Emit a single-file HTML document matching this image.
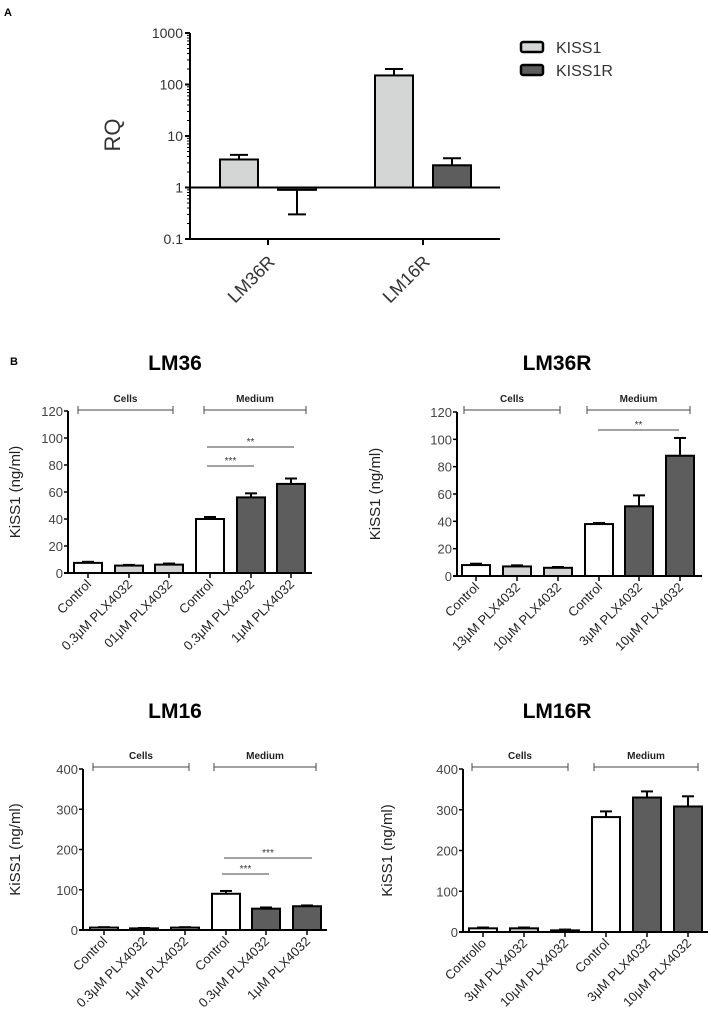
<!DOCTYPE html>
<html><head><meta charset="utf-8"><style>
body{margin:0;background:#fff;}
svg{display:block;font-family:"Liberation Sans",sans-serif;}
</style></head><body>
<svg id="s" width="711" height="1029" viewBox="0 0 711 1029" xmlns="http://www.w3.org/2000/svg">
<text x="4" y="16" font-size="11" font-weight="bold">A</text>
<text x="10" y="365" font-size="11" font-weight="bold">B</text>
</svg>
<script>
const NS='http://www.w3.org/2000/svg';
const svg=document.getElementById('s');
function el(t,a,p){const e=document.createElementNS(NS,t);for(const k in a)e.setAttribute(k,a[k]);(p||svg).appendChild(e);return e;}

// ---- Panel A data ----
const aGroups=['LM36R','LM16R'];
const aKiss1=[3.5,150];
const aKiss1Err=[4.3,200];
const aKiss1R=[0.9,2.7];
const aKiss1RErr=[0.3,3.7];
const aTicks=[0.1,1,10,100,1000];
const aTickLabels=['0.1','1','10','100','1000'];

// ---- Panel B data ----
const lm36Labels=['Control','0.3\u03bcM PLX4032','01\u03bcM PLX4032','Control','0.3\u03bcM PLX4032','1\u03bcM PLX4032'];
const lm36Values=[7.5,5.5,6.2,40,56,66];
const lm36Err=[8.3,6,7,41.5,59,70];
const lm36RLabels=['Control','13\u03bcM PLX4032','10\u03bcM PLX4032','Control','3\u03bcM PLX4032','10\u03bcM PLX4032'];
const lm36RValues=[8,7,6,38,51,88];
const lm36RErr=[9,7.8,6.6,38.8,59,101];
const lm16Labels=['Control','0.3\u03bcM PLX4032','1\u03bcM PLX4032','Control','0.3\u03bcM PLX4032','1\u03bcM PLX4032'];
const lm16Values=[6,4,6,90,53,59];
const lm16Err=[7,5,7,97,56,61];
const lm16RLabels=['Controllo','3\u03bcM PLX4032','10\u03bcM PLX4032','Control','3\u03bcM PLX4032','10\u03bcM PLX4032'];
const lm16RValues=[9,9,4,282,330,308];
const lm16RErr=[11,11,6,296,345,333];
const tick120=[0,20,40,60,80,100,120];
const tick400=[0,100,200,300,400];

// ---- Panel A ----
(function(){
  const ax=190,y1000=33,y01=239,xEnd=500;
  const y=v=>y01-(Math.log10(v)+1)/4*(y01-y1000);
  const g=el('g',{});
  
  
  el('line',{x1:ax,y1:y1000,x2:ax,y2:y01,stroke:'#000','stroke-width':2},g);
  for(let d=-1;d<3;d++)for(let m=1;m<10;m++){const v=Math.pow(10,d)*m;el('line',{x1:ax-(m==1?5:3),x2:ax,y1:y(v),y2:y(v),stroke:'#000','stroke-width':1},g);}
  aTicks.forEach((t,i)=>{el('line',{x1:ax-5,x2:ax,y1:y(t),y2:y(t),stroke:'#000','stroke-width':2},g);
    const tx=el('text',{x:ax-7,y:y(t)+5,'font-size':14,'text-anchor':'end',fill:'#333'},g);tx.textContent=aTickLabels[i];
    });
  el('line',{x1:ax,x2:xEnd,y1:y01,y2:y01,stroke:'#000','stroke-width':2},g);
  const rq=el('text',{x:0,y:0,'font-size':22,'text-anchor':'middle',fill:'#333',transform:'translate(120,135) rotate(-90)'},g);rq.textContent='RQ';
  
  const cx=[268,423];
  aGroups.forEach((n,i)=>{
    [[aKiss1,aKiss1Err,'#d4d6d5',-29],[aKiss1R,aKiss1RErr,'#5d5d5d',29]].forEach(([vals,errs,col,off])=>{
      const c=cx[i]+off, v=vals[i], yy=y(v), y1=y(1);
      el('line',{x1:c,x2:c,y1:yy,y2:y(errs[i]),stroke:'#000','stroke-width':2},g);
      el('line',{x1:c-9,x2:c+9,y1:y(errs[i]),y2:y(errs[i]),stroke:'#000','stroke-width':2},g);
      const r=el('rect',{x:c-19,y:Math.min(yy,y1),width:38,height:Math.max(Math.abs(y1-yy),2),fill:col,stroke:'#000','stroke-width':2},g);
      
    });
    el('line',{x1:cx[i],x2:cx[i],y1:y01,y2:y01+6,stroke:'#000','stroke-width':2},g);
    const t=el('text',{x:0,y:0,'font-size':18,'text-anchor':'end',fill:'#333',transform:`translate(${cx[i]+8},${y01+24}) rotate(-45)`},g);t.textContent=n;
    
  });
  el('line',{x1:ax,x2:xEnd,y1:y(1),y2:y(1),stroke:'#000','stroke-width':2},g);
  [['KISS1','#d4d6d5',47],['KISS1R','#5d5d5d',70]].forEach(([n,c,yy])=>{
    const r=el('rect',{x:521,y:yy-5,width:22,height:10,rx:2,fill:c,stroke:'#000','stroke-width':2.5},g);
    
    const t=el('text',{x:556,y:yy+6,'font-size':16,fill:'#333'},g);t.textContent=n;
    
  });
})();

// ---- Panel B ----
function barChart(o){
  const g=el('g',{});
  
  
  const y=v=>o.y0-v/o.max*(o.y0-o.yTop);
  const ti=el('text',{x:o.tx,y:o.ty,'font-size':21,'font-weight':'bold','text-anchor':'middle'},g);ti.textContent=o.title;
  
  const yl=el('text',{x:0,y:0,'font-size':15,'text-anchor':'middle',fill:'#222',transform:`translate(${o.ylx},${(o.y0+o.yTop)/2}) rotate(-90)`},g);yl.textContent='KiSS1 (ng/ml)';
  
  el('line',{x1:o.ax,x2:o.ax,y1:o.yTop,y2:o.y0,stroke:'#000','stroke-width':2},g);
  el('line',{x1:o.ax-4,x2:o.xEnd,y1:o.y0,y2:o.y0,stroke:'#000','stroke-width':2},g);
  o.ticks.forEach(t=>{el('line',{x1:o.ax-4,x2:o.ax,y1:y(t),y2:y(t),stroke:'#000','stroke-width':1.5},g);
    const tx=el('text',{x:o.ax-5,y:y(t)+5,'font-size':13,'text-anchor':'end',fill:'#444'},g);tx.textContent=t;
    });
  o.values.forEach((v,i)=>{
    const c=o.cx[i];
    const col=i===0||i===3?'#fff':(i<3?(o.cellDark&&i==2?'#555':'#d2d2d2'):'#5d5d5d');
    el('line',{x1:c,x2:c,y1:y(v),y2:y(o.err[i]),stroke:'#000','stroke-width':2},g);
    el('line',{x1:c-6,x2:c+6,y1:y(o.err[i]),y2:y(o.err[i]),stroke:'#000','stroke-width':2},g);
    const r=el('rect',{x:c-14,y:y(v),width:28,height:o.y0-y(v),fill:col,stroke:'#000','stroke-width':2},g);
    
    el('line',{x1:c,x2:c,y1:o.y0,y2:o.y0+5,stroke:'#000','stroke-width':1.5},g);
    const t=el('text',{x:0,y:0,'font-size':13,'text-anchor':'end',fill:'#222',transform:`translate(${c+4},${o.y0+12}) rotate(-45)`},g);t.textContent=o.labels[i];
    
  });
  [['Cells',o.cells],['Medium',o.medium]].forEach(([n,b])=>{
    el('line',{x1:b[0],x2:b[1],y1:o.by,y2:o.by,stroke:'#444','stroke-width':1},g);
    el('line',{x1:b[0],x2:b[0],y1:o.by-4,y2:o.by+4,stroke:'#444','stroke-width':1},g);
    el('line',{x1:b[1],x2:b[1],y1:o.by-4,y2:o.by+4,stroke:'#444','stroke-width':1},g);
    const t=el('text',{x:(b[0]+b[1])/2,y:o.by-8,'font-size':10,'font-weight':'bold','text-anchor':'middle',fill:'#222'},g);t.textContent=n;
    
  });
  (o.sig||[]).forEach(s=>{
    el('line',{x1:s[0],x2:s[1],y1:s[2],y2:s[2],stroke:'#444','stroke-width':1},g);
    const t=el('text',{x:(s[0]+s[1])/2,y:s[2]-2,'font-size':10,'text-anchor':'middle',fill:'#333'},g);t.textContent=s[3];
    
  });
}
barChart({name:'lm36-chart',title:'LM36',tx:175,ty:370,ylx:20,ax:68,y0:573,yTop:411,max:120,xEnd:312,ticks:tick120,
  cx:[88,129,169,210,251,291],values:lm36Values,err:lm36Err,labels:lm36Labels,by:410,cells:[78,173],medium:[204,306],
  sig:[[207,294,447,'**'],[207,254,466,'***']]});
barChart({name:'lm36r-chart',title:'LM36R',tx:557,ty:370,ylx:380,ax:457,y0:576,yTop:412,max:120,xEnd:702,ticks:tick120,
  cx:[476,517,558,599,639,680],values:lm36RValues,err:lm36RErr,labels:lm36RLabels,by:410,cells:[464,560],medium:[587,690],
  sig:[[598,679,430,'**']]});
barChart({name:'lm16-chart',title:'LM16',tx:175,ty:718,ylx:20,ax:83,y0:930,yTop:769,max:400,xEnd:327,ticks:tick400,
  cx:[104,144,185,226,266,307],values:lm16Values,err:lm16Err,labels:lm16Labels,by:767,cells:[93,189],medium:[214,316],
  sig:[[224,312,858,'***'],[222,269,874,'***']]});
barChart({name:'lm16r-chart',title:'LM16R',tx:557,ty:718,ylx:392,ax:463,y0:932,yTop:769,max:400,xEnd:708,ticks:tick400,cellDark:true,
  cx:[483,524,565,606,647,688],values:lm16RValues,err:lm16RErr,labels:lm16RLabels,by:767,cells:[472,568],medium:[594,698]});
</script>
</body></html>
